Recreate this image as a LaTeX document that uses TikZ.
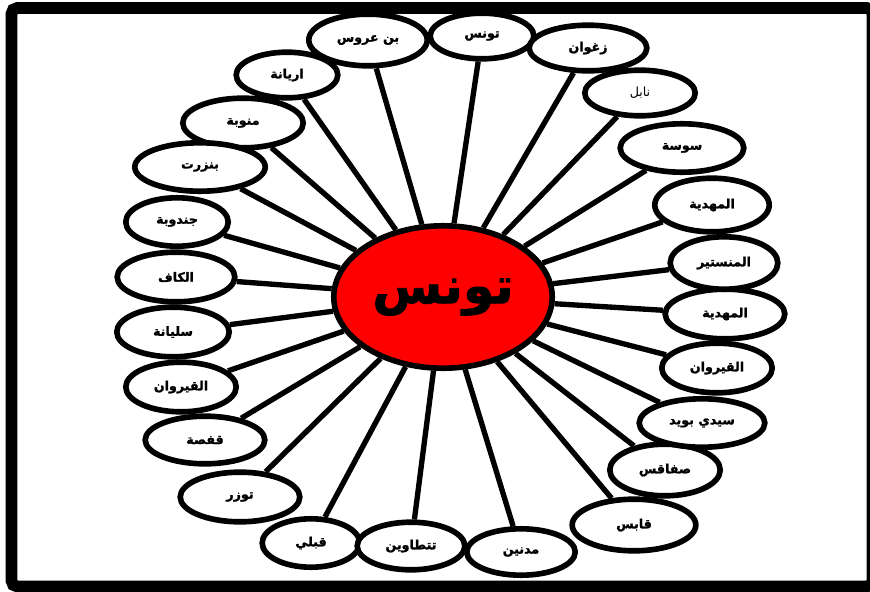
\documentclass[tikz,border=0pt]{standalone}
\usepackage{fontspec}
\newfontfamily\arabicfont[Script=Arabic, BoldFeatures={FakeBold=1.5}]{DejaVu Sans}
\TeXXeTstate=1
\usepackage{tikz}
\usetikzlibrary{shapes.geometric}
\newcommand{\RL}[1]{\beginR#1\endR}

\begin{document}
\begin{tikzpicture}[
    x=0.025cm, y=-0.025cm,
    every node/.style={align=center},
    city/.style={ellipse, draw, fill=white, line width=4pt, inner sep=0pt,
                 minimum width=2.85cm, minimum height=1.24cm,
                 font=\arabicfont\bfseries\fontsize{9}{10}\selectfont},
    hub/.style={ellipse, draw, fill=red, line width=4pt, inner sep=0pt,
                minimum width=5.46cm, minimum height=3.56cm,
                font=\arabicfont\bfseries\fontsize{36}{38}\selectfont},
    spoke/.style={line width=3.8pt}
]
\useasboundingbox (0,0) rectangle (870,592);
\clip (0,0) rectangle (870,592);
% frame
\draw[line width=0.29cm, rounded corners=4pt] (11.5,8) rectangle (872.5,586.5);

% centre
\node[hub] (tunis) at (443,297) {\RL{تونس}};

% governorates, clockwise from the top
\node[city, minimum width=2.59cm, minimum height=1.14cm] (c1) at (482,36) {\RL{تونس}};
\node[city, minimum width=2.96cm, minimum height=1.29cm] (c2) at (368,40) {\RL{بن عروس}};
\node[city, minimum width=2.54cm, minimum height=1.14cm] (c3) at (287,75) {\RL{اريانة}};
\node[city, minimum width=3.01cm] (c4) at (243,123) {\RL{منوبة}};
\node[city, minimum width=3.26cm, minimum height=1.21cm] (c5) at (200,167) {\RL{بنزرت}};
\node[city, minimum width=2.56cm, minimum height=1.21cm] (c6) at (177,222) {\RL{جندوبة}};
\node[city, minimum width=2.94cm] (c7) at (176,277) {\RL{الكاف}};
\node[city, minimum width=2.81cm] (c8) at (173,332) {\RL{سليانة}};
\node[city, minimum width=2.76cm] (c9) at (181,387) {\RL{القيروان}};
\node[city, minimum width=2.99cm, minimum height=1.19cm] (c10) at (205,440) {\RL{قفصة}};
\node[city, minimum width=2.99cm] (c11) at (240,497) {\RL{توزر}};
\node[city, minimum width=2.44cm, minimum height=1.21cm] (c12) at (311,543) {\RL{قبلي}};
\node[city, minimum width=2.69cm, minimum height=1.19cm] (c13) at (411,546) {\RL{تتطاوين}};
\node[city, minimum width=2.71cm, minimum height=1.16cm] (c14) at (521,552) {\RL{مدنين}};
\node[city, minimum width=3.09cm, minimum height=1.29cm] (c15) at (634,525) {\RL{قابس}};
\node[city, minimum width=2.76cm, minimum height=1.29cm] (c16) at (665,470) {\RL{صفاقس}};
\node[city, minimum width=3.14cm, minimum height=1.21cm] (c17) at (702,423) {\RL{سيدي بويد}};
\node[city, minimum width=2.76cm] (c18) at (717,368) {\RL{القيروان}};
\node[city, minimum width=2.99cm] (c19) at (725,314) {\RL{المهدية}};
\node[city, minimum width=2.69cm, minimum height=1.31cm] (c20) at (724,263) {\RL{المنستير}};
\node[city, minimum width=2.86cm, minimum height=1.34cm] (c21) at (712,205) {\RL{المهدية}};
\node[city, minimum width=3.09cm, minimum height=1.21cm] (c22) at (682,148) {\RL{سوسة}};
\node[city, minimum width=2.76cm, minimum height=1.14cm, font=\arabicfont\fontsize{9}{10}\selectfont] (c23) at (640,93) {\RL{نابل}};
\node[city, minimum width=2.94cm, minimum height=1.14cm] (c24) at (588,48) {\RL{زغوان}};

% spokes
\draw[spoke] (tunis) -- (c1);
\draw[spoke] (tunis) -- (c2);
\draw[spoke] (tunis) -- (c3);
\draw[spoke] (tunis) -- (c4);
\draw[spoke] (tunis) -- (c5);
\draw[spoke] (tunis) -- (c6);
\draw[spoke] (tunis) -- (c7);
\draw[spoke] (tunis) -- (c8);
\draw[spoke] (tunis) -- (c9);
\draw[spoke] (tunis) -- (c10);
\draw[spoke] (tunis) -- (c11);
\draw[spoke] (tunis) -- (c12);
\draw[spoke] (tunis) -- (c13);
\draw[spoke] (tunis) -- (c14);
\draw[spoke] (tunis) -- (c15);
\draw[spoke] (tunis) -- (c16);
\draw[spoke] (tunis) -- (c17);
\draw[spoke] (tunis) -- (c18);
\draw[spoke] (tunis) -- (c19);
\draw[spoke] (tunis) -- (c20);
\draw[spoke] (tunis) -- (c21);
\draw[spoke] (tunis) -- (c22);
\draw[spoke] (tunis) -- (c23);
\draw[spoke] (tunis) -- (c24);
\end{tikzpicture}
\end{document}
